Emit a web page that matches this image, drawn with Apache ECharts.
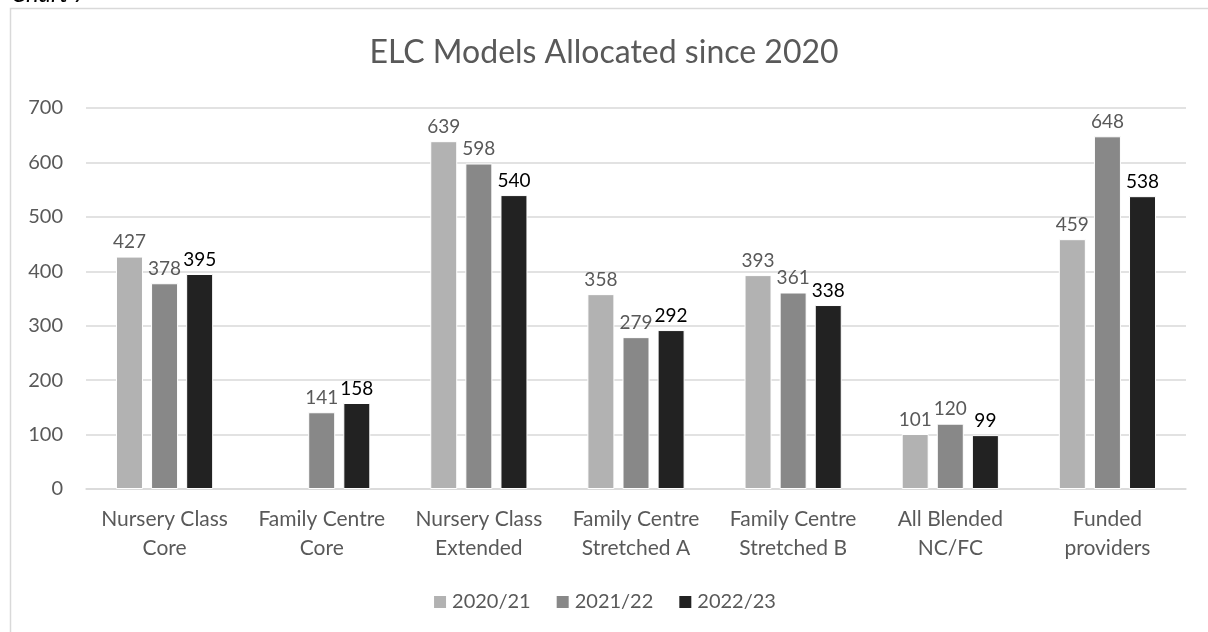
<!DOCTYPE html>
<html lang="en">
<head>
    <meta charset="UTF-8">
    <title>ELC Models Allocated since 2020</title>
    <script src="https://cdn.jsdelivr.net/npm/echarts@6/dist/echarts.min.js"></script>
    <style>
      body { margin: 0; background: #fff; }
      #main { width: 1208px; height: 632px; }
    </style>
</head>
<body>
    <div id="main"></div>
</body>

<script>
  // categories on the x axis
  const categories = [
    'Nursery Class\nCore',
    'Family Centre\nCore',
    'Nursery Class\nExtended',
    'Family Centre\nStretched A',
    'Family Centre\nStretched B',
    'All Blended\nNC/FC',
    'Funded\nproviders'
  ]
  const seriesNames = ['2020/21', '2021/22', '2022/23']
  // values per year (no 2020/21 value for Family Centre Core)
  const v2020 = [427, null, 639, 358, 393, 101, 459]
  const v2021 = [378, 141, 598, 279, 361, 120, 648]
  const v2022 = [395, 158, 540, 292, 338, 99, 538]
  const yTicks = [0, 100, 200, 300, 400, 500, 600, 700]

  const colors = ['#b2b2b2', '#888888', '#222222']
  const labelColors = ['#595959', '#595959', '#000000']
  const font = 'Lato, "Open Sans", sans-serif'

  const myChart = echarts.init(document.getElementById('main'))

  const values = [v2020, v2021, v2022]

  const option = {
    backgroundColor: '#fff',
    textStyle: { fontFamily: font },
    graphic: [
      {
        type: 'rect',
        shape: { x: 10.5, y: 8.5, width: 1210, height: 640 },
        style: { fill: 'none', stroke: '#d9d9d9', lineWidth: 1.5 }
      },
      {
        // caption above the chart box, mostly cut off at the top edge
        type: 'text',
        left: 11,
        top: -18,
        style: { text: 'Chart 7', font: 'italic 24px ' + font, fill: '#000' }
      }
    ],
    title: {
      text: 'ELC Models Allocated since 2020',
      left: 'center',
      top: 32,
      textStyle: { fontSize: 32, fontWeight: 'normal', color: '#595959', fontFamily: font }
    },
    legend: {
      bottom: 15,
      left: 'center',
      itemWidth: 14,
      itemHeight: 14,
      itemGap: 24,
      icon: 'rect',
      textStyle: { fontSize: 20, color: '#595959', fontFamily: font },
      data: seriesNames
    },
    grid: { left: 86, right: 22, top: 108, bottom: 143 },
    xAxis: {
      type: 'category',
      data: categories,
      axisTick: { show: false },
      axisLine: { lineStyle: { color: '#d9d9d9', width: 1.5 } },
      axisLabel: { fontSize: 21, color: '#595959', lineHeight: 29, margin: 16, fontFamily: font, interval: 0 }
    },
    yAxis: {
      type: 'value',
      min: yTicks[0],
      max: yTicks[yTicks.length - 1],
      interval: 100,
      axisLine: { show: false },
      axisTick: { show: false },
      splitLine: { lineStyle: { color: '#d9d9d9', width: 1.5 } },
      axisLabel: { fontSize: 20, color: '#595959', margin: 23, fontFamily: font }
    },
    series: seriesNames.map((name, i) => ({
      name: name,
      type: 'bar',
      data: values[i],
      barWidth: 27,
      barGap: '30%',
      itemStyle: { color: colors[i], borderColor: '#ffffff', borderWidth: 1 },
      label: {
        show: true,
        position: 'top',
        distance: 5,
        fontSize: 19,
        color: labelColors[i],
        fontFamily: font
      }
    }))
  }

  myChart.setOption(option)
</script>

</html>
